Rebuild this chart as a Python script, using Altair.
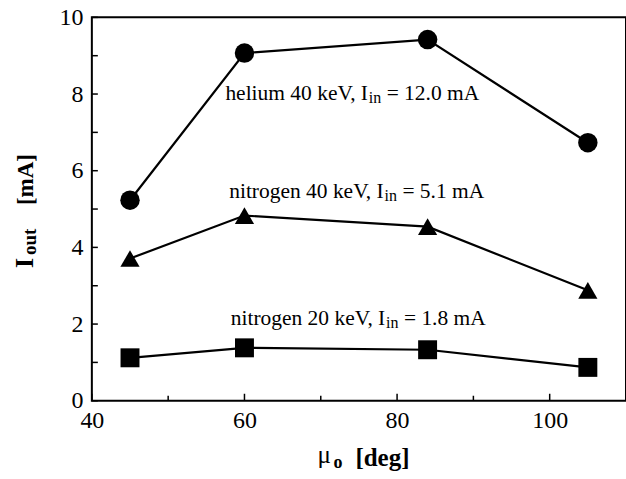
import altair as alt
import pandas as pd

# ---- data ----
mu = [45, 60, 84, 105]
helium = [5.23, 9.07, 9.42, 6.73]
nitrogen40 = [3.71, 4.83, 4.54, 2.88]
nitrogen20 = [1.12, 1.38, 1.33, 0.87]

series_names = ["helium 40 keV", "nitrogen 40 keV", "nitrogen 20 keV"]
series_values = [helium, nitrogen40, nitrogen20]
series_shapes = ["circle", "triangle-up", "square"]
series_sizes = [380, 360, 290]

label_prefix = ["helium 40 keV, I", "nitrogen 40 keV, I", "nitrogen 20 keV, I"]
label_sub = ["in", "in", "in"]
label_suffix = ["= 12.0 mA", "= 5.1 mA", "= 1.8 mA"]
label_x = [57.5, 58.0, 58.2]
label_y = [7.84, 5.29, 1.97]

x_ticks = [40, 50, 60, 70, 80, 90, 100, 110]
x_labels = [40, 60, 80, 100]
y_ticks = [0, 1, 2, 3, 4, 5, 6, 7, 8, 9, 10]
y_labels = [0, 2, 4, 6, 8, 10]

FONT = "Liberation Serif"
W, H = 535, 384
XDOM = [40, 110]
YDOM = [0, 10]

# Times / Liberation Serif advance widths (per 1000 em)
TW = {" ": 250, ",": 250, ".": 250, "=": 564, "A": 722, "I": 333, "V": 722,
      "a": 444, "e": 444, "g": 500, "h": 500, "i": 278, "k": 500, "l": 278,
      "m": 778, "n": 500, "o": 500, "r": 333, "t": 278, "u": 500}


def tw(s, size):
    return sum(TW.get(c, 500) for c in s) * size / 1000.0


rows = []
for name, vals in zip(series_names, series_values):
    for m, v in zip(mu, vals):
        rows.append({"mu": m, "I": v, "series": name})
df = pd.DataFrame(rows)

xs = alt.Scale(domain=XDOM, nice=False, zero=False)
ys = alt.Scale(domain=YDOM, nice=False, zero=False)

x_axis = alt.Axis(values=x_labels, title=None, grid=False, ticks=False, tickSize=0, domain=False,
                  labelFont=FONT, labelFontSize=24, labelColor="black", labelPadding=8,
                  labelFlush=False, format="d")
y_axis = alt.Axis(values=y_labels, title=None, grid=False, ticks=False, tickSize=0, domain=False,
                  labelFont=FONT, labelFontSize=24, labelColor="black", labelPadding=9, format="d")

base = alt.Chart(df)
lines = base.mark_line(color="black", strokeWidth=2.2).encode(
    x=alt.X("mu:Q", scale=xs, axis=x_axis),
    y=alt.Y("I:Q", scale=ys, axis=y_axis),
    detail="series:N",
)
points = base.mark_point(filled=True, color="black", opacity=1).encode(
    x=alt.X("mu:Q", scale=xs),
    y=alt.Y("I:Q", scale=ys),
    shape=alt.Shape("series:N", scale=alt.Scale(domain=series_names, range=series_shapes), legend=None),
    size=alt.Size("series:N", scale=alt.Scale(domain=series_names, range=series_sizes), legend=None),
)

# inward ticks
xt = pd.DataFrame({"v": x_ticks, "major": [v % 20 == 0 for v in x_ticks]})
yt = pd.DataFrame({"v": y_ticks})
xtick_major = alt.Chart(xt[xt.major]).mark_rule(color="black", strokeWidth=1.5).encode(
    x=alt.X("v:Q", scale=xs), y=alt.value(H), y2=alt.value(H - 7))
xtick_minor = alt.Chart(xt[~xt.major]).mark_rule(color="black", strokeWidth=1.5).encode(
    x=alt.X("v:Q", scale=xs), y=alt.value(H), y2=alt.value(H - 5))
ytick = alt.Chart(yt).mark_rule(color="black", strokeWidth=1.5).encode(
    y=alt.Y("v:Q", scale=ys), x=alt.value(0), x2=alt.value(6))

layers = [xtick_major, xtick_minor, ytick, lines, points]

# annotations with subscripts
AF, SF = 21.5, 16
ann = pd.DataFrame({"x": label_x, "y": label_y, "p": label_prefix, "s": label_sub, "q": label_suffix})
for i in range(len(ann)):
    one = ann.iloc[[i]]
    d1 = tw(label_prefix[i], AF) - 2
    d2 = d1 + tw(label_sub[i], SF) + tw(" ", AF)
    for col, dx, dy, fs in [("p", 0, 0, AF), ("s", d1, 3, SF), ("q", d2, 0, AF)]:
        layers.append(
            alt.Chart(one).mark_text(font=FONT, fontSize=fs, align="left", baseline="alphabetic",
                                     dx=dx, dy=dy, color="black").encode(
                x=alt.X("x:Q", scale=xs), y=alt.Y("y:Q", scale=ys), text=f"{col}:N")
        )


def txt(t, x, y, size, weight="bold", angle=0):
    return alt.Chart(pd.DataFrame({"t": [t]})).mark_text(
        font=FONT, fontSize=size, fontWeight=weight, align="left", baseline="alphabetic",
        angle=angle, color="black").encode(x=alt.value(x), y=alt.value(y), text="t:N")


# y title: I_out [mA]
layers += [
    txt("I", -59, 251, 26, angle=270),
    txt("out", -56, 238, 19, angle=270),
    txt("[mA]", -59, 188, 23, angle=270),
]
# x title: mu_o [deg]
layers += [
    txt("\u03bc", 226, 446, 25, weight="normal"),
    txt("o", 242, 451, 18),
    txt("[deg]", 264, 449, 25),
]

chart = alt.layer(*layers).properties(
    width=W, height=H,
    autosize=alt.AutoSizeParams(type="none"),
    padding={"left": 92, "top": 17, "right": 0, "bottom": 78},
    background="white",
).configure_view(stroke="black", strokeWidth=2)

chart.save("out.html", embed_options={"renderer": "svg", "actions": False})
